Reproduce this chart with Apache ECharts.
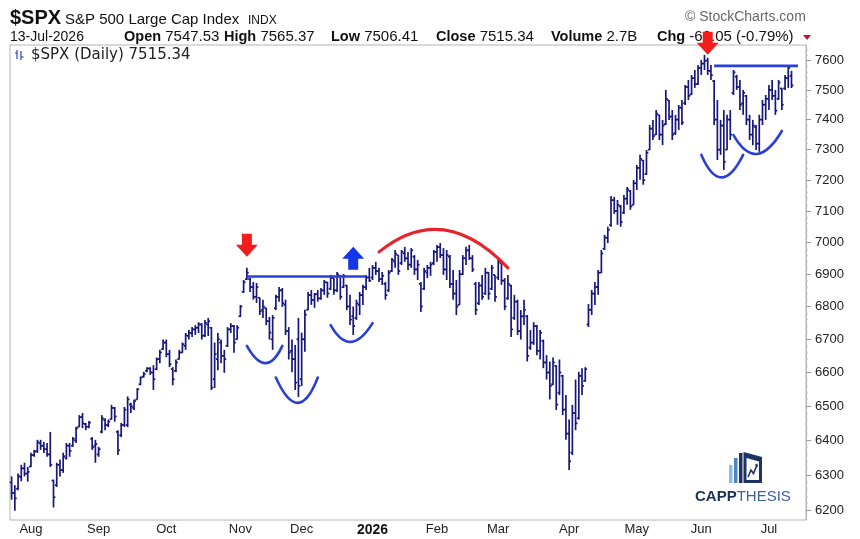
<!DOCTYPE html>
<html>
<head>
<meta charset="utf-8">
<title>$SPX S&amp;P 500 Large Cap Index</title>
<script src="https://cdn.jsdelivr.net/npm/echarts@6/dist/echarts.min.js"></script>
<style>
  html, body { margin: 0; padding: 0; background: #fff; }
  #chart { width: 860px; height: 539px; }
</style>
</head>
<body>
<div id="chart"></div>
<script>
// trading days on the chart, month by month
const months = ['2025-07', '2025-08', '2025-09', '2025-10', '2025-11', '2025-12',
  '2026-01', '2026-02', '2026-03', '2026-04', '2026-05', '2026-06', '2026-07'];
const monthDays = [
  [24, 25, 28, 29, 30, 31],
  [1, 4, 5, 6, 7, 8, 11, 12, 13, 14, 15, 18, 19, 20, 21, 22, 25, 26, 27, 28, 29],
  [2, 3, 4, 5, 8, 9, 10, 11, 12, 15, 16, 17, 18, 19, 22, 23, 24, 25, 26, 29, 30],
  [1, 2, 3, 6, 7, 8, 9, 10, 13, 14, 15, 16, 17, 20, 21, 22, 23, 24, 27, 28, 29, 30, 31],
  [3, 4, 5, 6, 7, 10, 11, 12, 13, 14, 17, 18, 19, 20, 21, 24, 25, 26, 28],
  [1, 2, 3, 4, 5, 8, 9, 10, 11, 12, 15, 16, 17, 18, 19, 22, 23, 24, 26, 29, 30, 31],
  [2, 5, 6, 7, 8, 9, 12, 13, 14, 15, 16, 20, 21, 22, 23, 26, 27, 28, 29, 30],
  [2, 3, 4, 5, 6, 9, 10, 11, 12, 13, 17, 18, 19, 20, 23, 24, 25, 26, 27],
  [2, 3, 4, 5, 6, 9, 10, 11, 12, 13, 16, 17, 18, 19, 20, 23, 24, 25, 26, 27, 30, 31],
  [1, 2, 6, 7, 8, 9, 10, 13, 14, 15, 16, 17, 20, 21, 22, 23, 24, 27, 28, 29, 30],
  [1, 4, 5, 6, 7, 8, 11, 12, 13, 14, 15, 18, 19, 20, 21, 22, 26, 27, 28, 29],
  [1, 2, 3, 4, 5, 8, 9, 10, 11, 12, 15, 16, 17, 18, 22, 23, 24, 25, 26, 29, 30],
  [1, 2, 6, 7, 8, 9, 10, 13]
];

// daily bars: [open, high, low, close]
const bars = [
  [6280, 6297, 6231, 6250], [6250, 6272, 6200, 6235], [6262, 6305, 6258, 6298], [6295, 6330, 6283, 6320],
  [6320, 6336, 6297, 6305], [6305, 6324, 6282, 6310],
  // Aug
  [6325, 6365, 6324, 6358], [6358, 6373, 6353, 6368], [6370, 6402, 6364, 6395], [6392, 6402, 6373, 6385],
  [6385, 6396, 6364, 6375], [6375, 6393, 6353, 6360], [6360, 6425, 6324, 6330], [6285, 6288, 6209, 6238],
  [6272, 6336, 6267, 6330], [6330, 6345, 6297, 6315], [6315, 6365, 6307, 6355], [6350, 6393, 6345, 6385],
  [6385, 6393, 6353, 6370], [6385, 6410, 6382, 6405], [6400, 6440, 6393, 6435], [6440, 6474, 6439, 6468],
  [6468, 6480, 6436, 6450], [6448, 6451, 6430, 6440], [6440, 6457, 6436, 6452], [6405, 6410, 6373, 6380],
  [6385, 6402, 6336, 6390],
  // Sep
  [6360, 6382, 6353, 6375], [6425, 6474, 6421, 6465], [6460, 6465, 6430, 6445], [6445, 6461, 6439, 6455],
  [6462, 6504, 6461, 6495], [6495, 6498, 6455, 6470], [6425, 6430, 6358, 6372], [6415, 6451, 6410, 6445],
  [6445, 6498, 6439, 6490], [6445, 6529, 6439, 6520], [6505, 6510, 6480, 6500], [6495, 6520, 6489, 6515],
  [6520, 6554, 6520, 6550], [6565, 6588, 6562, 6585], [6588, 6602, 6585, 6595], [6605, 6616, 6601, 6612],
  [6612, 6616, 6593, 6600], [6600, 6622, 6548, 6580], [6610, 6645, 6607, 6640], [6640, 6668, 6628, 6660],
  [6670, 6699, 6668, 6690],
  // Oct
  [6690, 6699, 6646, 6655], [6655, 6668, 6616, 6625], [6610, 6616, 6562, 6580], [6605, 6639, 6601, 6630],
  [6640, 6668, 6639, 6660], [6660, 6690, 6659, 6685], [6680, 6719, 6668, 6712], [6710, 6728, 6699, 6720],
  [6718, 6737, 6707, 6730], [6730, 6743, 6713, 6735], [6735, 6752, 6719, 6745], [6745, 6749, 6699, 6710],
  [6712, 6759, 6707, 6750], [6745, 6765, 6710, 6755], [6735, 6737, 6548, 6555], [6580, 6690, 6554, 6655],
  [6640, 6719, 6607, 6700], [6690, 6699, 6628, 6650], [6650, 6668, 6599, 6640], [6680, 6737, 6677, 6730],
  [6730, 6749, 6719, 6740], [6740, 6743, 6659, 6690], [6700, 6743, 6699, 6735],
  // Nov
  [6770, 6805, 6768, 6800], [6845, 6882, 6842, 6875], [6885, 6920, 6882, 6905], [6885, 6888, 6845, 6860],
  [6860, 6876, 6821, 6830], [6830, 6873, 6811, 6860], [6827, 6827, 6774, 6785], [6790, 6821, 6765, 6800],
  [6795, 6796, 6743, 6755], [6755, 6768, 6699, 6720], [6700, 6774, 6668, 6765], [6795, 6836, 6789, 6830],
  [6830, 6860, 6815, 6850], [6850, 6857, 6799, 6810], [6805, 6821, 6713, 6725], [6725, 6737, 6639, 6660],
  [6665, 6699, 6601, 6640], [6640, 6683, 6548, 6570], [6700, 6765, 6527, 6560],
  // Dec
  [6580, 6720, 6560, 6700], [6700, 6790, 6662, 6775], [6790, 6845, 6789, 6835], [6835, 6851, 6805, 6820],
  [6820, 6842, 6796, 6838], [6838, 6851, 6815, 6825], [6825, 6857, 6821, 6850], [6850, 6882, 6836, 6875],
  [6875, 6876, 6827, 6840], [6855, 6898, 6851, 6890], [6888, 6888, 6836, 6850], [6850, 6907, 6845, 6900],
  [6895, 6898, 6821, 6830], [6860, 6901, 6857, 6895], [6865, 6867, 6789, 6800], [6800, 6836, 6743, 6760],
  [6770, 6800, 6713, 6740], [6765, 6821, 6759, 6810], [6805, 6845, 6774, 6835], [6835, 6867, 6805, 6860],
  [6860, 6898, 6851, 6890], [6890, 6920, 6876, 6880],
  // Jan
  [6890, 6929, 6882, 6920], [6920, 6939, 6898, 6910], [6910, 6920, 6876, 6885], [6885, 6907, 6867, 6895],
  [6870, 6876, 6821, 6835], [6850, 6913, 6845, 6905], [6910, 6951, 6907, 6945], [6940, 6976, 6920, 6965],
  [6960, 6960, 6898, 6910], [6935, 6976, 6929, 6970], [6965, 6986, 6939, 6950], [6950, 6970, 6913, 6930],
  [6930, 6982, 6920, 6975], [6955, 6960, 6898, 6915], [6915, 6945, 6882, 6930], [6870, 6876, 6783, 6800],
  [6855, 6920, 6851, 6910], [6905, 6929, 6888, 6920], [6920, 6939, 6895, 6930], [6935, 6976, 6929, 6970],
  // Feb
  [6970, 6992, 6939, 6985], [6985, 6998, 6951, 6960], [6960, 6982, 6898, 6915], [6915, 6976, 6882, 6960],
  [6955, 6960, 6857, 6870], [6870, 6913, 6821, 6840], [6840, 6882, 6774, 6800], [6805, 6913, 6805, 6900],
  [6900, 6960, 6898, 6950], [6950, 6986, 6929, 6975], [6975, 6992, 6945, 6950], [6950, 6960, 6907, 6915],
  [6870, 6876, 6774, 6790], [6810, 6876, 6805, 6865], [6865, 6898, 6821, 6830], [6840, 6920, 6836, 6905],
  [6905, 6907, 6821, 6840], [6855, 6929, 6851, 6920], [6898, 6898, 6815, 6830],
  // Mar
  [6890, 6951, 6882, 6940], [6935, 6939, 6867, 6880], [6880, 6888, 6789, 6800], [6825, 6898, 6821, 6870],
  [6865, 6867, 6707, 6730], [6765, 6836, 6759, 6815], [6815, 6821, 6713, 6725], [6725, 6789, 6699, 6770],
  [6770, 6821, 6743, 6790], [6770, 6774, 6633, 6650], [6675, 6728, 6668, 6690], [6690, 6752, 6683, 6740],
  [6740, 6743, 6652, 6665], [6665, 6728, 6639, 6720], [6695, 6699, 6613, 6630], [6630, 6652, 6579, 6600],
  [6600, 6633, 6520, 6560], [6565, 6645, 6562, 6630], [6620, 6622, 6489, 6505], [6540, 6639, 6533, 6600],
  [6590, 6593, 6474, 6490], [6490, 6533, 6402, 6420],
  // Apr
  [6420, 6461, 6315, 6340], [6365, 6504, 6358, 6480], [6480, 6579, 6430, 6450], [6465, 6602, 6461, 6590],
  [6590, 6613, 6533, 6560], [6575, 6616, 6573, 6610], [6745, 6808, 6737, 6790], [6790, 6851, 6774, 6840],
  [6840, 6876, 6805, 6860], [6860, 6913, 6836, 6905], [6905, 6976, 6904, 6965], [6980, 7024, 6976, 7015],
  [7015, 7050, 6998, 7040], [7055, 7149, 7050, 7135], [7135, 7146, 7091, 7100], [7100, 7136, 7056, 7120],
  [7115, 7120, 7050, 7065], [7095, 7152, 7091, 7140], [7140, 7178, 7120, 7170], [7165, 7168, 7104, 7115],
  [7120, 7201, 7120, 7190],
  // May
  [7190, 7250, 7168, 7240], [7240, 7283, 7201, 7270], [7265, 7266, 7185, 7200], [7220, 7299, 7217, 7290],
  [7300, 7382, 7299, 7370], [7370, 7399, 7332, 7345], [7350, 7432, 7349, 7420], [7415, 7416, 7332, 7350],
  [7350, 7399, 7315, 7380], [7385, 7500, 7382, 7470], [7465, 7466, 7399, 7410], [7410, 7432, 7332, 7350],
  [7355, 7416, 7349, 7400], [7400, 7449, 7365, 7440], [7440, 7466, 7382, 7390], [7455, 7517, 7449, 7510],
  [7510, 7534, 7466, 7480], [7485, 7551, 7483, 7540], [7540, 7568, 7507, 7520], [7520, 7585, 7517, 7575],
  // Jun
  [7575, 7602, 7551, 7590], [7590, 7620, 7568, 7600], [7600, 7610, 7551, 7565], [7565, 7585, 7534, 7550],
  [7530, 7534, 7382, 7400], [7400, 7466, 7266, 7300], [7300, 7399, 7283, 7380], [7380, 7432, 7233, 7260],
  [7300, 7416, 7299, 7400], [7400, 7432, 7332, 7350], [7490, 7568, 7483, 7560], [7545, 7551, 7500, 7510],
  [7510, 7534, 7432, 7450], [7455, 7500, 7416, 7490], [7480, 7483, 7382, 7400], [7400, 7416, 7332, 7350],
  [7350, 7399, 7315, 7380], [7375, 7382, 7299, 7320], [7320, 7416, 7293, 7400], [7400, 7466, 7382, 7450],
  [7450, 7483, 7399, 7470],
  // Jul
  [7470, 7517, 7432, 7500], [7500, 7534, 7466, 7480], [7480, 7500, 7416, 7430], [7470, 7534, 7466, 7525],
  [7505, 7507, 7432, 7450], [7505, 7551, 7500, 7540], [7540, 7580, 7507, 7575.39],
  [7547.53, 7565.37, 7506.41, 7515.34]
];

const priceTicks = [7600, 7500, 7400, 7300, 7200, 7100, 7000, 6900, 6800, 6700, 6600, 6500, 6400, 6300, 6200];
const monthKeys = ['2025-08', '2025-09', '2025-10', '2025-11', '2025-12', '2026-01',
  '2026-02', '2026-03', '2026-04', '2026-05', '2026-06', '2026-07'];
const monthLabels = ['Aug', 'Sep', 'Oct', 'Nov', 'Dec', '2026', 'Feb', 'Mar', 'Apr', 'May', 'Jun', 'Jul'];

// drawn-on marks, in bar index + price
const resistLines = [[73.3, 110.2, 6893], [217.7, 244.1, 7582]];   // [from, to, price]
const cups = [                                                      // [left, right, leftPrice, rightPrice, bottomPrice]
  [73.3, 84.2, 6680, 6680, 6628],
  [82.3, 95.0, 6585, 6585, 6510],
  [98.8, 112.1, 6743, 6749, 6692],
  [213.7, 227.0, 7283, 7283, 7209],
  [224.2, 238.5, 7348, 7362, 7286]
];
const domes = [[114.3, 153.7, 6970, 6920, 7040]];
const redArrows = [[72.7, 6955], [216.3, 7620]];                    // [bar, tip price]
const blueArrows = [[106.2, 6986]];

const dates = [];
months.forEach((m, k) => monthDays[k].forEach(d => dates.push(m + '-' + String(d).padStart(2, '0'))));

const monthStart = {};
monthKeys.forEach((key, k) => { monthStart[dates.findIndex(d => d.startsWith(key))] = monthLabels[k]; });

const minorTicks = [];
priceTicks.forEach(t => { for (let s = 20; s < 100; s += 20) minorTicks.push(t + s); });

const chart = echarts.init(document.getElementById('chart'));

function renderBar(params, api) {
  const i = api.value(0);
  const o = api.coord([i, api.value(1)]);
  const h = api.coord([i, api.value(2)]);
  const l = api.coord([i, api.value(3)]);
  const c = api.coord([i, api.value(4)]);
  const x = h[0];
  const style = { stroke: '#17177a', lineWidth: 1.7 };
  return {
    type: 'group',
    children: [
      { type: 'line', shape: { x1: x, y1: h[1], x2: x, y2: l[1] }, style },
      { type: 'line', shape: { x1: x - 1.9, y1: o[1], x2: x, y2: o[1] }, style },
      { type: 'line', shape: { x1: x, y1: c[1], x2: x + 1.9, y2: c[1] }, style }
    ]
  };
}

function renderLine(params, api) {
  const a = api.coord([api.value(0), api.value(2)]);
  const b = api.coord([api.value(1), api.value(2)]);
  return { type: 'line', shape: { x1: a[0], y1: a[1], x2: b[0], y2: b[1] },
    style: { stroke: '#2a3fd6', lineWidth: 2.6 } };
}

function arcRenderer(color, width) {
  return function (params, api) {
    const a = api.coord([api.value(0), api.value(2)]);
    const b = api.coord([api.value(1), api.value(3)]);
    const m = api.coord([(api.value(0) + api.value(1)) / 2, api.value(4)]);
    const cy = 2 * m[1] - (a[1] + b[1]) / 2;
    return { type: 'bezierCurve', shape: { x1: a[0], y1: a[1], x2: b[0], y2: b[1], cpx1: m[0], cpy1: cy },
      style: { stroke: color, lineWidth: width, fill: null, lineCap: 'round' } };
  };
}

function arrowRenderer(color, dir) {
  return function (params, api) {
    const t = api.coord([api.value(0), api.value(1)]);
    const s = dir === 'down' ? -1 : 1;
    const pts = [[0, 0], [-11, 12], [-5, 12], [-5, 23], [5, 23], [5, 12], [11, 12]]
      .map(p => [t[0] + p[0], t[1] + s * p[1]]);
    return { type: 'polygon', shape: { points: pts }, style: { fill: color } };
  };
}

const font = '"Liberation Sans", Arial, sans-serif';
const hdr = (x, label, value) => ({
  type: 'text', x: x, y: 37, z: 1,
  style: {
    text: '{b|' + label + '} ' + value, font: '15px ' + font, fill: '#111', verticalAlign: 'middle',
    rich: { b: { font: 'bold 14.5px ' + font } }
  }
});

const option = {
  animation: false,
  backgroundColor: '#fff',
  grid: {
    left: 10, right: 54, top: 45, bottom: 19,
    show: true, borderColor: '#b4b4b4', borderWidth: 1,
    containLabel: false, outerBoundsMode: 'none'
  },
  xAxis: {
    type: 'category',
    data: dates,
    boundaryGap: true,
    max: dates.length + 3,
    axisLine: { show: false },
    axisTick: { show: false },
    splitLine: { show: false },
    axisLabel: {
      margin: 3,
      interval: (i) => monthStart[i] !== undefined,
      formatter: (v, i) => {
        const lab = monthStart[i] || '';
        return lab === '2026' ? '{y|' + lab + '}' : lab;
      },
      color: '#222',
      fontSize: 13,
      fontFamily: '"Liberation Sans Narrow", ' + font,
      rich: { y: { fontWeight: 'bold', fontSize: 14, fontFamily: '"Liberation Sans Narrow", ' + font, color: '#111' } }
    }
  },
  yAxis: [{
    type: 'log',
    logBase: 10,
    position: 'right',
    min: 6174,
    max: 7654,
    axisLine: { show: true, lineStyle: { color: '#b4b4b4' } },
    axisTick: { show: true, length: 5, lineStyle: { color: '#999' }, customValues: priceTicks },
    splitLine: { show: false },
    axisLabel: {
      customValues: priceTicks,
      margin: 9,
      color: '#222',
      fontSize: 13,
      fontFamily: font,
      formatter: v => String(Math.round(v))
    }
  }, {
    type: 'log',
    logBase: 10,
    position: 'right',
    min: 6174,
    max: 7654,
    axisLine: { show: false },
    axisTick: { show: true, length: 2, lineStyle: { color: '#c8c8c8' }, customValues: minorTicks },
    axisLabel: { show: false },
    splitLine: { show: false }
  }],
  series: [
    {
      type: 'custom', name: '$SPX', renderItem: renderBar,
      encode: { x: 0, y: [1, 2, 3, 4] },
      data: bars.map((b, i) => [i].concat(b)), z: 3
    },
    { type: 'custom', renderItem: renderLine, encode: { x: [0, 1], y: 2 }, data: resistLines, z: 4 },
    { type: 'custom', renderItem: arcRenderer('#2a3fd6', 2.6), encode: { x: [0, 1], y: [2, 3, 4] }, data: cups, z: 4 },
    { type: 'custom', renderItem: arcRenderer('#e8232b', 3), encode: { x: [0, 1], y: [2, 3, 4] }, data: domes, z: 4 },
    { type: 'custom', renderItem: arrowRenderer('#f41d1d', 'down'), encode: { x: 0, y: 1 }, data: redArrows, z: 6 },
    { type: 'custom', renderItem: arrowRenderer('#1435e8', 'up'), encode: { x: 0, y: 1 }, data: blueArrows, z: 6 }
  ],
  graphic: [
    { type: 'text', x: 10, y: 18, z: 1, style: { text: '$SPX', font: 'bold 20px ' + font, fill: '#111', verticalAlign: 'middle' } },
    { type: 'text', x: 65, y: 19.5, z: 1, style: { text: 'S&P 500 Large Cap Index', font: '15px ' + font, fill: '#111', verticalAlign: 'middle' } },
    { type: 'text', x: 248, y: 20.5, z: 1, style: { text: 'INDX', font: '12px ' + font, fill: '#111', verticalAlign: 'middle' } },
    { type: 'text', x: 685, y: 17, z: 1, style: { text: '\u00a9 StockCharts.com', font: '14px ' + font, fill: '#666', verticalAlign: 'middle' } },
    { type: 'text', x: 10, y: 37, z: 1, style: { text: '13-Jul-2026', font: '14px ' + font, fill: '#111', verticalAlign: 'middle' } },
    hdr(124, 'Open', '7547.53'),
    hdr(224, 'High', '7565.37'),
    hdr(331, 'Low', '7506.41'),
    hdr(436, 'Close', '7515.34'),
    hdr(551, 'Volume', '2.7B'),
    hdr(657, 'Chg', '-60.05 (-0.79%)'),
    { type: 'polygon', z: 1, shape: { points: [[803, 35], [811, 35], [807, 40]] }, style: { fill: '#c8102e' } },
    // legend line inside the plot
    { type: 'line', z: 5, shape: { x1: 17, y1: 50, x2: 17, y2: 59 }, style: { stroke: '#2a3fd6', lineWidth: 1.2 } },
    { type: 'line', z: 5, shape: { x1: 15, y1: 53, x2: 17, y2: 53 }, style: { stroke: '#2a3fd6', lineWidth: 1.2 } },
    { type: 'line', z: 5, shape: { x1: 21, y1: 51, x2: 21, y2: 60 }, style: { stroke: '#2a3fd6', lineWidth: 1.2 } },
    { type: 'line', z: 5, shape: { x1: 21, y1: 57, x2: 23.5, y2: 57 }, style: { stroke: '#2a3fd6', lineWidth: 1.2 } },
    { type: 'text', x: 31, y: 55, z: 5, style: { text: '$SPX (Daily) 7515.34', font: '15px "DejaVu Sans", sans-serif', fill: '#222', verticalAlign: 'middle' } },
    // CAPPTHESIS logo
    { type: 'rect', z: 5, shape: { x: 729, y: 465, width: 3.5, height: 18 }, style: { fill: '#8cbbe3' } },
    { type: 'rect', z: 5, shape: { x: 734, y: 458, width: 3.5, height: 25 }, style: { fill: '#4a86c6' } },
    { type: 'rect', z: 5, shape: { x: 739, y: 453, width: 3.5, height: 30 }, style: { fill: '#1f3266' } },
    { type: 'polygon', z: 5, shape: { points: [[743.5, 452], [762, 457], [762, 483], [743.5, 483]] }, style: { fill: '#1f3266' } },
    { type: 'polygon', z: 5, shape: { points: [[746.5, 458], [759, 461.5], [759, 480], [746.5, 480]] }, style: { fill: '#fff' } },
    { type: 'polyline', z: 5, shape: { points: [[748, 477], [751, 470], [753.5, 473.5], [757, 465]] }, style: { stroke: '#1f3266', lineWidth: 1.6, fill: null } },
    { type: 'polygon', z: 5, shape: { points: [[754.5, 465], [757.5, 463.5], [757.8, 467]] }, style: { fill: '#1f3266' } },
    { type: 'text', x: 695, y: 497, z: 5, style: { text: '{a|CAPP}{b|THESIS}', verticalAlign: 'middle', rich: { a: { font: 'bold 15px ' + font, fill: '#1f2f5e' }, b: { font: '15px ' + font, fill: '#3d5fa8' } } } }
  ]
};

chart.setOption(option);
</script>
</body>
</html>
